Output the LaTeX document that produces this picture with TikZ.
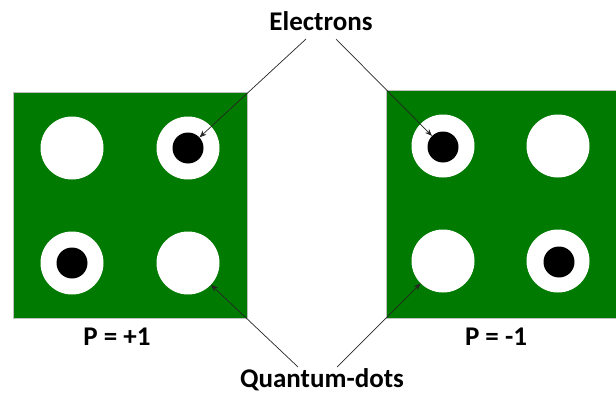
\documentclass[tikz,border=0pt]{standalone}
\usepackage{fontspec}
\setmainfont{Carlito}
\usetikzlibrary{arrows.meta}
\definecolor{qgreen}{RGB}{0,122,0}
\begin{document}
\begin{tikzpicture}[x=1pt,y=-1pt,
  panel/.style={fill=qgreen, draw=gray!50, line width=0.6pt},
  qdot/.style={circle, fill=white, minimum size=63pt, inner sep=0pt},
  electron/.style={circle, fill=black, minimum size=31pt, inner sep=0pt},
  lbl/.style={font=\bfseries\fontsize{27}{30}\selectfont, inner sep=0pt},
  ptr/.style={draw=black!85, line width=0.7pt, -{Stealth[length=7pt,width=5.5pt]}}]
\useasboundingbox (0,0) rectangle (616,396);
% panels
\draw[panel] (13,92) rectangle (247,318);
\draw[panel] (386,90) rectangle (617,318);
% left panel dots
\node[qdot] (l1) at (72,148) {};
\node[qdot] (l2) at (188,148) {};
\node[qdot] (l3) at (72,263) {};
\node[qdot] (l4) at (188,263) {};
\node[electron] (le2) at (188,148) {};
\node[electron] (le3) at (72,263) {};
% right panel dots
\node[qdot] (r1) at (443,146) {};
\node[qdot] (r2) at (558,146) {};
\node[qdot] (r3) at (443,261) {};
\node[qdot] (r4) at (558,261) {};
\node[electron] (re1) at (443,147) {};
\node[electron] (re4) at (559,262) {};
% labels
\node[lbl] (el) at (321,21) {Electrons};
\node[lbl] (pl) at (117,337) {P = +1};
\node[lbl] (pr) at (496,337) {P = -1};
\node[lbl] (qd) at (322,380) {Quantum-dots};
% leader start points
\coordinate (e1) at (306,39);
\coordinate (e2) at (336,39);
\coordinate (q1) at (298,367);
\coordinate (q2) at (337,367);
% connectors
\draw[ptr] (e1) -- (le2);
\draw[ptr] (e2) -- (re1);
\draw[ptr] (q1) -- (l4);
\draw[ptr] (q2) -- (r3);
\end{tikzpicture}
\end{document}
